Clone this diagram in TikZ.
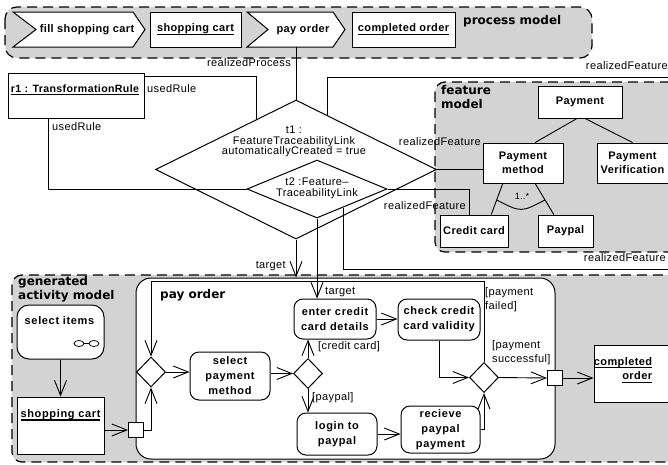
\documentclass[tikz,border=0pt]{standalone}
\usepackage{fontspec}
\setmainfont{Liberation Sans}[LetterSpace=3.5]
\newfontfamily\actfont{Liberation Sans}[LetterSpace=6]
\newfontfamily\headfont{DejaVu Sans}
\usetikzlibrary{arrows.meta,shapes.geometric,calc}

\definecolor{regiongray}{RGB}{211,211,211}

% underline drawn as a rule below the baseline
\newcommand\ulined[1]{\setbox0=\hbox{#1}\leavevmode\rlap{\vrule height -2.0pt depth 3.2pt width \wd0}\box0}

\tikzset{
  region/.style={draw=black, fill=regiongray, line width=1.2pt, dash pattern=on 10pt off 6pt, rounded corners=10pt},
  container/.style={draw, fill=white, line width=1pt, rounded corners=15pt, inner sep=0pt},
  box/.style={draw, fill=white, line width=1pt, inner sep=0pt, align=center, font=\bfseries\fontsize{11}{14.5}\selectfont},
  chevron/.style={draw, fill=white, line width=1pt},
  chevtext/.style={inner sep=0pt, font=\bfseries\fontsize{11}{11}\selectfont},
  action/.style={draw, fill=white, line width=1pt, rounded corners=9pt, inner sep=0pt, align=center, font=\actfont\bfseries\fontsize{11}{15}\selectfont},
  choice/.style={draw, fill=white, diamond, line width=1pt, inner sep=0pt, minimum width=29pt, minimum height=30pt},
  pin/.style={draw, fill=white, line width=1pt, inner sep=0pt, minimum size=15pt},
  link/.style={draw, diamond, line width=1pt, inner sep=0pt},
  wire/.style={line width=0.9pt},
  flow/.style={wire, -{Straight Barb[length=15pt,width=12pt,line width=0.9pt]}},
  lbl/.style={inner sep=0pt, font=\fontsize{11}{11}\selectfont},
  boldlbl/.style={inner sep=0pt, font=\bfseries\fontsize{11}{14.5}\selectfont},
  head/.style={inner sep=0pt, align=left, font=\headfont\bfseries\fontsize{12}{14.5}\selectfont},
}

\begin{document}
\begin{tikzpicture}[x=1pt,y=-1pt]
\useasboundingbox (0,0) rectangle (668,464);
\clip (0,0) rectangle (668,464);

% ---------- model regions ----------
\path[region, rounded corners=12pt] (5,7) rectangle (592,58);
\path[region] (435,82) rectangle (690,252);
\path[region] (12,275) rectangle (690,462);

% ---------- process model ----------
\draw[chevron] (13,12) -- (133,12) -- (145,29.5) -- (133,47) -- (13,47) -- (36,29.5) -- cycle;
\node[chevtext] (fillcart) at (87,29.5) {fill shopping cart};
\node[box, minimum width=91pt, minimum height=35pt] (cart) at (195.5,29.5) {\ulined{shopping cart}};
\draw[chevron] (247,12) -- (333,12) -- (345,29.5) -- (333,47) -- (247,47) -- (268,29.5) -- cycle;
\node[chevtext] (payorder) at (303,29.5) {pay order};
\coordinate (payorderfoot) at (296,47);
\node[box, minimum width=103pt, minimum height=35pt] (done) at (403.5,29.5) {\ulined{completed order}};
\node[head, anchor=base west] (processlabel) at (463,24) {process model};

% ---------- transformation rule and trace links ----------
\node[box, minimum width=136pt, minimum height=45pt] (rule) at (76,95.5) {};
\node[chevtext, font=\bfseries\fontsize{10.6}{11}\selectfont] (ruletxt) at (75,90) {\ulined{r1 : TransformationRule}};

\node[link, minimum width=281pt, minimum height=139pt] (t1) at (296,169.5) {};
\node[lbl, align=center, font=\fontsize{11}{10.5}\selectfont] (t1txt) at (294,141.5)
  {t1 :\\FeatureTraceabilityLink\\automaticallyCreated = true};
\node[link, minimum width=140pt, minimum height=58pt] (t2) at (317,189) {};
\node[lbl, align=center, font=\fontsize{11}{11}\selectfont] (t2txt) at (317,188.5)
  {t2 :Feature–\\TraceabilityLink};

% ---------- feature model ----------
\node[head, anchor=north west] (featurelabel) at (441,85) {feature\\model};
\node[box, minimum width=84pt, minimum height=32pt] (payment) at (580,102) {Payment};
\node[box, minimum width=80pt, minimum height=40pt] (method) at (523,163) {Payment\\method};
\node[box, minimum width=71pt, minimum height=40pt] (verify) at (632.5,163) {Payment\\Verification};
\node[box, minimum width=68pt, minimum height=32pt] (credit) at (474,231) {Credit card};
\node[box, minimum width=55pt, minimum height=32pt] (paypal) at (565.5,231) {Paypal};

% ---------- generated activity model ----------
\node[head, anchor=north west] (activitylabel) at (18,276) {generated\\activity model};
\node[container, minimum width=419pt, minimum height=181pt] (payact) at (345.5,368.5) {};
\node[head, anchor=base west] (paylabel) at (160,298) {pay order};

\node[action, minimum width=87pt, minimum height=54pt, rounded corners=12pt] (select) at (60.5,332) {};
\node[chevtext, font=\actfont\bfseries\fontsize{11}{11}\selectfont] (selecttxt) at (59.5,321) {select items};
\draw[line width=0.8pt] (79,343.5) ellipse [x radius=5pt, y radius=3pt]
                        (84,343.5) -- (89,343.5)
                        (94,343.5) ellipse [x radius=5pt, y radius=3pt];

\node[box, minimum width=87pt, minimum height=57pt] (cartobj) at (60.5,425.5) {};
\node[chevtext, font=\actfont\bfseries\fontsize{11}{11}\selectfont] (carttxt) at (60.5,415) {\ulined{shopping cart}};

\node[choice] (merge) at (151,372) {};
\node[action, minimum width=80pt, minimum height=48pt] (choose) at (230,376) {select\\payment\\method};
\node[choice] (branch) at (308,373.5) {};
\node[action, minimum width=82pt, minimum height=40pt] (enter) at (335,319) {enter credit\\card details};
\node[action, minimum width=80pt, minimum height=42pt] (login) at (337,434) {login to\\paypal};
\node[action, minimum width=82pt, minimum height=41pt] (check) at (439,319.5) {check credit\\card validity};
\node[action, minimum width=79pt, minimum height=47pt] (receive) at (440.5,429.5) {recieve\\paypal\\payment};
\node[choice] (join) at (484,377.5) {};
\node[pin] (inpin) at (136,430) {};
\node[pin] (outpin) at (555,378) {};
\node[box, minimum width=100pt, minimum height=57pt] (doneobj) at (644,373.5) {};
\node[boldlbl, align=right] (donetxt) at (623,370) {\ulined{completed}\\\ulined{order}};

% ---------- activity flows ----------
\draw[flow] (select.south) -- (cartobj.north);
\draw[flow] (inpin.west -| cartobj.east) -- (inpin.west);
\draw[flow] (inpin.east) -| (merge.south);
\draw[flow] (merge.east) -- (merge.east -| choose.west);
\draw[flow] (branch.west -| choose.east) -- (branch.west);
\draw[flow] (branch.north) -- (branch.north |- enter.south);
\draw[flow] (branch.south) -- (branch.south |- login.north);
\draw[flow] (enter.east) -- (enter.east -| check.west);
\draw[flow] (login.east) -- (login.east -| receive.west);
\draw[flow] (check.south) |- (join.west);
\draw[flow] (receive.east) -| (join.south);
\coordinate (loopcorner) at (151,281);
\draw[flow] (join.north) |- (loopcorner) -- (merge.north);
\draw[flow] (join.east) -- (outpin.west);
\draw[flow] (outpin.east) -- (outpin.east -| doneobj.west);

\node[lbl, anchor=west] (ccguard) at (318,347) {[credit card]};
\node[lbl, anchor=west] (ppguard) at (312,398) {[paypal]};
\node[lbl, anchor=north west, align=left, font=\fontsize{11}{14}\selectfont] (failguard) at (485,287) {[payment\\failed]};
\node[lbl, anchor=north west, align=left, font=\fontsize{11}{14}\selectfont] (okguard) at (492,340) {[payment\\successful]};

% ---------- feature tree ----------
\draw[wire] ($(payment.south west)!0.464!(payment.south east)$) -- ($(method.north west)!0.65!(method.north east)$);
\draw[wire] ($(payment.south west)!0.56!(payment.south east)$) -- (verify.north);
\draw[wire] ($(method.south west)!0.25!(method.south east)$) coordinate (ga)
         -- ($(credit.north west)!0.75!(credit.north east)$) coordinate (gb);
\draw[wire] ($(method.south west)!0.65!(method.south east)$) coordinate (gc)
         -- ($(paypal.north west)!0.29!(paypal.north east)$) coordinate (gd);
\draw[wire] ($(ga)!0.53!(gb)$) .. controls ($(method.south)+(-2,29)$) .. ($(gc)!0.53!(gd)$);
\node[lbl, font=\fontsize{9}{9}\selectfont] (cardinality) at (522,196) {1..*};

% ---------- trace links ----------
\draw[wire] (payorderfoot) -- (t1.north);
\node[lbl, anchor=east] (rp) at (291,63) {realizedProcess};
\draw[wire] ($(rule.north east)+(0,4)$) -| ($(t1.north)!0.277!(t1.west)$);
\node[lbl, anchor=west] (ur1) at (147,89) {usedRule};
\draw[wire] ($(rule.south west)!0.3!(rule.south east)$) |- (t2.west);
\node[lbl, anchor=west] (ur2) at (52,127) {usedRule};
\draw[wire] (t1.east) -- (t1.east -| method.west);
\node[lbl, anchor=east] (rf1) at (481,142) {realizedFeature};
\draw[wire] (t2.east) -| ([xshift=-5pt]credit.north);
\node[lbl, anchor=east] (rf2) at (466,206) {realizedFeature};
\coordinate (featureexit) at (668,269);
\draw[wire] ($(t2.east)!0.63!(t2.south)$) |- (featureexit);
\node[lbl, anchor=east] (rf3) at (666,258) {realizedFeature};
\coordinate (verifyexit) at (668,77);
\draw[wire] ($(t1.north)!0.22!(t1.east)$) |- (verifyexit);
\node[lbl, anchor=east] (rf4) at (668,66) {realizedFeature};
\draw[flow] (t1.south) -- (t1.south |- payact.north);
\node[lbl, anchor=east] (tg1) at (286,266) {target};
\draw[flow] (t2.south) -- (t2.south |- enter.north);
\node[lbl, anchor=west] (tg2) at (325,292) {target};
\end{tikzpicture}
\end{document}
